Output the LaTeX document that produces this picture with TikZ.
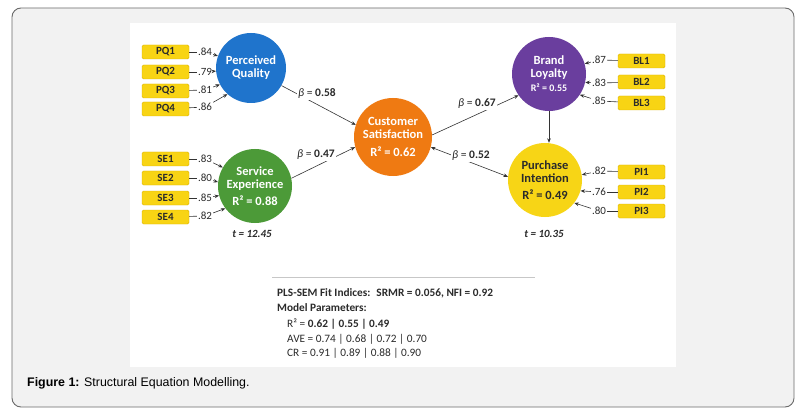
\documentclass[tikz,border=0pt]{standalone}
\usepackage{fontspec}
\setmainfont{Carlito}
\newfontfamily\capfont{Liberation Sans}
\usetikzlibrary{arrows.meta}
\definecolor{pqblue}{HTML}{1F74CC}
\definecolor{segreen}{HTML}{4C9A38}
\definecolor{csorange}{HTML}{EF7A12}
\definecolor{blpurple}{HTML}{6A3E9E}
\definecolor{piyellow}{HTML}{F7D516}
\definecolor{indy}{HTML}{F8D414}
\definecolor{indyd}{HTML}{DDB400}
\definecolor{txt}{HTML}{2B2B2B}
\definecolor{linec}{HTML}{333333}
\definecolor{framebg}{HTML}{F2F2F2}
\definecolor{framed}{HTML}{6A6A6A}
\begin{document}
\begin{tikzpicture}[x=1pt,y=-1pt,
  lat/.style={circle, inner sep=0pt, align=center, text=white,
    font=\bfseries\fontsize{12.5}{13}\selectfont},
  ind/.style={rectangle, rounded corners=1.5pt, fill=indy, draw=indyd,
    line width=0.4pt, minimum width=47pt, minimum height=14pt, inner sep=0pt,
    text=txt, font=\bfseries\fontsize{11}{12}\selectfont},
  load/.style={inner sep=1pt, text=txt, font=\fontsize{11}{12}\selectfont},
  conn/.style={draw=linec, line width=0.6pt},
  arr/.style={conn, -{Stealth[length=4.5pt,width=3.6pt]}},
  dbl/.style={conn, {Stealth[length=4.5pt,width=3.6pt]}-{Stealth[length=4.5pt,width=3.6pt]}},
  beta/.style={fill=white, inner sep=1pt, text=txt, font=\fontsize{11.5}{13}\selectfont},
  tlab/.style={inner sep=0pt, text=txt, font=\bfseries\itshape\fontsize{11}{12}\selectfont},
  fit/.style={inner sep=0pt, anchor=west, text=txt, font=\fontsize{11.3}{13}\selectfont}
]
\useasboundingbox (0,0) rectangle (802,414);
\fill[white] (0,0) rectangle (802,414);
\draw[framed, fill=framebg, line width=0.9pt, rounded corners=9pt] (12,8) rectangle (794,407);
\fill[white] (130,23) rectangle (676,367);

% latent variables
\node[lat, fill=pqblue, minimum size=70pt] (pq) at (251,68) {Perceived\\Quality};
\node[lat, fill=segreen, minimum size=74pt] (se) at (255,186) {Service\\Experience\\[4pt]R² = 0.88};
\node[lat, fill=csorange, minimum size=78pt] (cs) at (393,137) {Customer\\Satisfaction\\[5pt]R² = 0.62};
\node[lat, fill=blpurple, minimum size=74pt] (bl) at (549,74) {Brand\\Loyalty\\[1pt]{\fontsize{10}{11}\selectfont R² = 0.55}};
\node[lat, fill=piyellow, minimum size=74pt, text=txt] (pi) at (545,180) {Purchase\\Intention\\[4pt]R² = 0.49};

% indicators left
\node[ind] (pq1) at (165.5,52) {PQ1};
\node[ind] (pq2) at (165.5,72) {PQ2};
\node[ind] (pq3) at (165.5,91) {PQ3};
\node[ind] (pq4) at (165.5,109) {PQ4};
\node[ind] (se1) at (165.5,159) {SE1};
\node[ind] (se2) at (165.5,178) {SE2};
\node[ind] (se3) at (165.5,198) {SE3};
\node[ind] (se4) at (165.5,217) {SE4};
% indicators right
\node[ind] (bl1) at (641.5,61) {BL1};
\node[ind] (bl2) at (641.5,82) {BL2};
\node[ind] (bl3) at (641.5,103) {BL3};
\node[ind] (pi1) at (641.5,172) {PI1};
\node[ind] (pi2) at (641.5,192) {PI2};
\node[ind] (pi3) at (641.5,211) {PI3};

% loadings
\node[load] (lpq1) at (205,52) {.84};
\node[load] (lpq2) at (205,72) {.79};
\node[load] (lpq3) at (205,90) {.81};
\node[load] (lpq4) at (205,107) {.86};
\node[load] (lse1) at (205,159) {.83};
\node[load] (lse2) at (205,178) {.80};
\node[load] (lse3) at (205,198) {.85};
\node[load] (lse4) at (205,216) {.82};
\node[load] (lbl1) at (599,60) {.87};
\node[load] (lbl2) at (599,83) {.83};
\node[load] (lbl3) at (599,101) {.85};
\node[load] (lpi1) at (599,171) {.82};
\node[load] (lpi2) at (599,192) {.76};
\node[load] (lpi3) at (599,211) {.80};

\foreach \b/\l/\c/\a in {pq1/lpq1/pq/160, pq2/lpq2/pq/185, pq3/lpq3/pq/208, pq4/lpq4/pq/228,
  se1/lse1/se/150, se2/lse2/se/174, se3/lse3/se/195, se4/lse4/se/217,
  bl1/lbl1/bl/16, bl2/lbl2/bl/-13, bl3/lbl3/bl/-34,
  pi1/lpi1/pi/8, pi2/lpi2/pi/-17, pi3/lpi3/pi/-38}{
  \draw[conn] (\b) -- (\l);
  \draw[arr] (\l) -- (\c.\a);
}

% structural paths
\draw[arr] (pq.-30) -- (cs.162);
\draw[arr] (se.12) -- (cs.195);
\draw[arr] (cs.3) -- (bl.215);
\draw[dbl] (cs.-15) -- (pi.175);
\draw[arr] (bl.south) -- (bl.south |- pi.north);

\node[beta] (b1) at (317,94) {\textit{β} = \textbf{0.58}};
\node[beta] (b2) at (316,155) {\textit{β} = \textbf{0.47}};
\node[beta] (b3) at (477,104) {\textit{β} = \textbf{0.67}};
\node[beta] (b4) at (471,156) {\textit{β} = \textbf{0.52}};

\node[tlab] (t1) at (252,234) {t = 12.45};
\node[tlab] (t2) at (544,234) {t = 10.35};

% fit block
\draw[draw=black!22, line width=0.6pt] (272,277) -- (535,277);
\node[fit] (f1) at (277,293) {\textbf{PLS-SEM Fit Indices:}\hspace{6pt}\textbf{SRMR = 0.056, NFI = 0.92}};
\node[fit] (f2) at (277,308) {\textbf{Model Parameters:}};
\node[fit] (f3) at (287,324) {R² = \textbf{0.62 | 0.55 | 0.49}};
\node[fit] (f4) at (287,339) {AVE = 0.74 | 0.68 | 0.72 | 0.70};
\node[fit] (f5) at (287,353) {CR = 0.91 | 0.89 | 0.88 | 0.90};

\node[anchor=west, inner sep=0pt, font=\capfont\fontsize{12.4}{14}\selectfont, text=black] (cap) at (27,383) {\textbf{Figure 1:} Structural Equation Modelling.};
\end{tikzpicture}
\end{document}
